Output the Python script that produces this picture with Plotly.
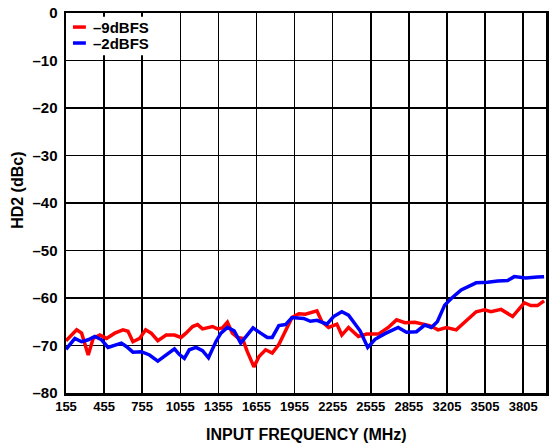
import plotly.graph_objects as go

# Axis position (MHz on the chart's evenly spaced grid) and labels
tick_pos = [155, 455, 755, 1055, 1355, 1655, 1955, 2255, 2555, 2855, 3155, 3455, 3755]
tick_labels = ["155", "455", "755", "1055", "1355", "1655", "1955", "2255", "2555",
               "2855", "3205", "3505", "3805"]

series_names = ["–9dBFS", "–2dBFS"]
series_colors = ["#FF0000", "#0000FF"]

# -9dBFS series
freq_9 = [155, 239, 278, 330, 369, 421, 474, 539, 604, 643, 682, 735, 782, 826, 878, 944,
          1009, 1061, 1100, 1152, 1191, 1230, 1309, 1348, 1387, 1426, 1465, 1505, 1544,
          1583, 1635, 1675, 1727, 1779, 1831, 1884, 1935, 1988, 2040, 2131, 2170, 2223,
          2288, 2327, 2380, 2458, 2523, 2615, 2693, 2758, 2824, 2902, 2954, 3019, 3085,
          3150, 3228, 3294, 3385, 3450, 3502, 3581, 3672, 3764, 3816, 3868, 3920]
hd2_9 = [-69.0, -66.7, -67.4, -72.0, -68.5, -67.8, -68.5, -67.4, -66.7, -67.0, -69.2, -68.5,
         -66.7, -67.4, -69.0, -67.8, -67.8, -68.3, -67.4, -66.0, -65.6, -66.5, -66.0, -66.5,
         -66.3, -65.1, -67.4, -68.3, -68.5, -71.3, -74.5, -72.3, -70.9, -71.6, -69.8, -66.7,
         -64.1, -63.3, -63.4, -62.7, -65.0, -66.2, -65.5, -67.8, -66.2, -68.1, -67.6, -67.6,
         -66.2, -64.6, -65.2, -65.1, -65.4, -65.8, -66.7, -66.2, -66.7, -65.0, -62.9, -62.5,
         -62.9, -62.4, -63.9, -61.0, -61.6, -61.6, -60.6]

# -2dBFS series
freq_2 = [155, 225, 278, 330, 382, 435, 486, 539, 591, 630, 682, 748, 813, 878, 944, 1009,
          1048, 1087, 1126, 1179, 1230, 1277, 1335, 1375, 1426, 1479, 1531, 1583, 1628,
          1688, 1740, 1779, 1831, 1884, 1935, 2027, 2080, 2131, 2210, 2262, 2327, 2380,
          2471, 2531, 2589, 2667, 2771, 2836, 2915, 2980, 3032, 3079, 3137, 3189, 3267,
          3385, 3476, 3555, 3633, 3685, 3776, 3868, 3920]
hd2_2 = [-70.8, -68.5, -69.2, -68.8, -68.1, -68.8, -70.4, -69.9, -69.5, -70.2, -71.4, -71.3,
         -72.0, -73.3, -71.9, -70.7, -71.9, -72.7, -70.9, -70.4, -71.1, -72.6, -69.2, -67.4,
         -66.2, -66.9, -69.5, -67.8, -66.3, -67.4, -68.3, -68.3, -65.8, -65.6, -64.1, -64.3,
         -64.9, -64.7, -65.5, -63.9, -62.9, -63.6, -66.9, -70.4, -68.7, -67.5, -66.2, -67.2,
         -67.1, -65.7, -66.2, -65.0, -61.5, -60.1, -58.3, -56.8, -56.7, -56.4, -56.3, -55.5,
         -55.8, -55.6, -55.5]

y_ticks = [0, -10, -20, -30, -40, -50, -60, -70, -80]
y_labels = ["0", "–10", "–20", "–30", "–40", "–50", "–60", "–70", "–80"]

FONT = "Liberation Sans, Arial, sans-serif"

fig = go.Figure()
for xs, ys, nm, col in [(freq_9, hd2_9, series_names[0], series_colors[0]),
                        (freq_2, hd2_2, series_names[1], series_colors[1])]:
    fig.add_trace(go.Scatter(x=xs, y=ys, mode="lines", name=nm, showlegend=False,
                             line=dict(color=col, width=3.5)))

# legend box (white background hides the grid, as in the reference)
shapes = [dict(type="rect", xref="paper", yref="paper", x0=0.003, x1=0.19, y0=0.889, y1=0.990,
               fillcolor="white", line=dict(width=0), layer="above")]
annotations = []
legend_rows = [0.963, 0.921]
for nm, col, yy in zip(series_names, series_colors, legend_rows):
    shapes.append(dict(type="line", xref="paper", yref="paper", x0=0.0145, x1=0.0414,
                       y0=yy, y1=yy, line=dict(color=col, width=3.5), layer="above"))
    annotations.append(dict(text="<b>%s</b>" % nm, xref="paper", yref="paper", x=0.052, y=yy,
                            xanchor="left", yanchor="middle", showarrow=False,
                            font=dict(family=FONT, size=15, color="black")))

annotations.append(dict(text="<b>INPUT FREQUENCY (MHz)</b>", xref="paper", yref="paper",
                        x=0.5, y=-0.1105, xanchor="center", yanchor="middle", showarrow=False,
                        font=dict(family=FONT, size=16, color="black")))
annotations.append(dict(text="<b>HD2 (dBc)</b>", xref="paper", yref="paper", textangle=-90,
                        x=-0.1, y=0.532, xanchor="center", yanchor="middle", showarrow=False,
                        font=dict(family=FONT, size=16, color="black")))

fig.update_layout(
    width=550, height=448,
    margin=dict(l=66, r=1, t=13, b=55),
    paper_bgcolor="white", plot_bgcolor="white",
    font=dict(family=FONT, size=12, color="black"),
    showlegend=False,
    shapes=shapes,
    annotations=annotations,
    xaxis=dict(range=[155, 3935], tickmode="array", tickvals=tick_pos,
               ticktext=["<b>%s</b>" % t for t in tick_labels],
               tickfont=dict(size=13), ticklabeloverflow="allow",
               showgrid=True, gridcolor="black", gridwidth=1.5,
               showline=True, linecolor="black", linewidth=2.5, mirror=True,
               ticks="", zeroline=False),
    yaxis=dict(range=[-80, 0], tickmode="array", tickvals=y_ticks,
               ticktext=["<b>%s</b>" % t for t in y_labels],
               tickfont=dict(size=15), ticklabelstandoff=3, ticklabeloverflow="allow",
               showgrid=True, gridcolor="black", gridwidth=1.5,
               showline=True, linecolor="black", linewidth=2.5, mirror=True,
               ticks="", zeroline=False),
)

fig.write_html(
    "out.html",
    config={"displayModeBar": False, "staticPlot": True},
    post_script="document.body.style.margin='0';document.body.style.overflow='hidden';",
)
